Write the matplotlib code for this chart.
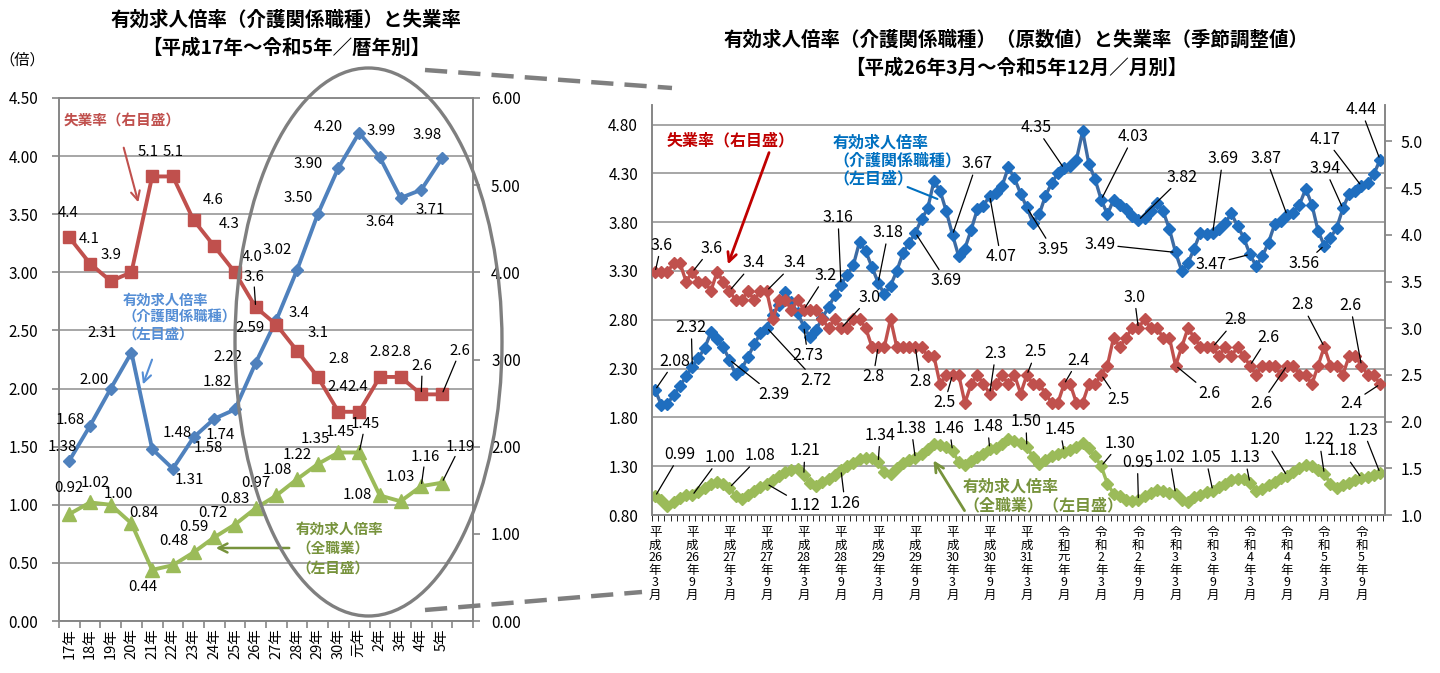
import re
import numpy as np
import matplotlib
matplotlib.use('Agg')
import matplotlib.pyplot as plt
from matplotlib.patches import Ellipse, FancyArrowPatch
from matplotlib.lines import Line2D

plt.rcParams['font.family'] = ['Noto Sans CJK JP', 'DejaVu Sans']

# ---------------- data: left chart (annual, H17 - R5) ----------------
years = ['17年', '18年', '19年', '20年', '21年', '22年', '23年', '24年', '25年', '26年',
         '27年', '28年', '29年', '30年', '元年', '2年', '3年', '4年', '5年']
care_y = [1.38, 1.68, 2.00, 2.31, 1.48, 1.31, 1.58, 1.74, 1.82, 2.22,
          2.59, 3.02, 3.50, 3.90, 4.20, 3.99, 3.64, 3.71, 3.98]
all_y = [0.92, 1.02, 1.00, 0.84, 0.44, 0.48, 0.59, 0.72, 0.83, 0.97,
         1.08, 1.22, 1.35, 1.45, 1.45, 1.08, 1.03, 1.16, 1.19]
unemp_y = [4.4, 4.1, 3.9, 4.0, 5.1, 5.1, 4.6, 4.3, 4.0, 3.6,
           3.4, 3.1, 2.8, 2.4, 2.4, 2.8, 2.8, 2.6, 2.6]

# ---------------- data: right chart (monthly, H26.3 - R5.12) ----------------
care_m = [2.08, 1.93, 1.94, 2.03, 2.12, 2.22, 2.32, 2.41, 2.51, 2.67,
          2.60, 2.52, 2.39, 2.24, 2.30, 2.42, 2.55, 2.66, 2.72, 2.85,
          2.95, 3.08, 2.98, 2.87, 2.73, 2.62, 2.70, 2.82, 2.93, 3.05,
          3.16, 3.26, 3.36, 3.60, 3.50, 3.34, 3.18, 3.06, 3.15, 3.30,
          3.48, 3.59, 3.69, 3.83, 3.94, 4.22, 4.12, 3.91, 3.67, 3.45,
          3.53, 3.72, 3.93, 3.97, 4.07, 4.10, 4.17, 4.36, 4.25, 4.09,
          3.95, 3.79, 3.88, 4.07, 4.20, 4.30, 4.35, 4.38, 4.44, 4.73,
          4.40, 4.24, 4.03, 3.88, 4.03, 3.98, 3.93, 3.86, 3.82, 3.84,
          3.91, 4.00, 3.91, 3.73, 3.49, 3.30, 3.38, 3.53, 3.69, 3.68,
          3.69, 3.73, 3.79, 3.89, 3.76, 3.64, 3.47, 3.35, 3.45, 3.59,
          3.78, 3.81, 3.87, 3.89, 3.98, 4.14, 3.98, 3.71, 3.56, 3.64,
          3.74, 3.94, 4.09, 4.12, 4.17, 4.20, 4.29, 4.44]
all_m = [0.99, 0.95, 0.89, 0.93, 0.97, 1.00, 1.00, 1.04, 1.08, 1.12,
         1.14, 1.12, 1.08, 0.99, 0.96, 1.01, 1.05, 1.09, 1.12, 1.16,
         1.20, 1.24, 1.26, 1.27, 1.21, 1.13, 1.10, 1.14, 1.17, 1.21,
         1.26, 1.30, 1.33, 1.37, 1.38, 1.38, 1.34, 1.24, 1.22, 1.28,
         1.33, 1.36, 1.38, 1.43, 1.48, 1.53, 1.52, 1.50, 1.46, 1.34,
         1.31, 1.35, 1.39, 1.43, 1.48, 1.49, 1.53, 1.58, 1.56, 1.54,
         1.50, 1.39, 1.32, 1.36, 1.40, 1.43, 1.45, 1.47, 1.50, 1.54,
         1.49, 1.40, 1.30, 1.12, 1.02, 0.99, 0.95, 0.94, 0.95, 0.99,
         1.03, 1.06, 1.05, 1.03, 1.02, 0.95, 0.93, 0.98, 1.01, 1.04,
         1.05, 1.09, 1.12, 1.16, 1.17, 1.17, 1.13, 1.05, 1.07, 1.11,
         1.14, 1.18, 1.20, 1.24, 1.28, 1.31, 1.30, 1.26, 1.22, 1.12,
         1.08, 1.11, 1.13, 1.16, 1.18, 1.19, 1.21, 1.23]
unemp_m = [3.6, 3.6, 3.6, 3.7, 3.7, 3.5, 3.6, 3.5, 3.5, 3.4,
           3.6, 3.5, 3.4, 3.3, 3.3, 3.4, 3.3, 3.4, 3.4, 3.1,
           3.3, 3.3, 3.2, 3.3, 3.2, 3.2, 3.2, 3.1, 3.0, 3.1,
           3.0, 3.0, 3.1, 3.1, 3.0, 2.8, 2.8, 2.8, 3.1, 2.8,
           2.8, 2.8, 2.8, 2.8, 2.7, 2.7, 2.4, 2.5, 2.5, 2.5,
           2.2, 2.4, 2.5, 2.4, 2.3, 2.4, 2.5, 2.4, 2.5, 2.3,
           2.5, 2.4, 2.4, 2.3, 2.2, 2.2, 2.4, 2.4, 2.2, 2.2,
           2.4, 2.4, 2.5, 2.6, 2.9, 2.8, 2.9, 3.0, 3.0, 3.1,
           3.0, 3.0, 2.9, 2.9, 2.6, 2.8, 3.0, 2.9, 2.8, 2.8,
           2.8, 2.7, 2.8, 2.7, 2.8, 2.7, 2.6, 2.5, 2.6, 2.6,
           2.6, 2.5, 2.6, 2.6, 2.5, 2.5, 2.4, 2.6, 2.8, 2.6,
           2.6, 2.5, 2.7, 2.7, 2.6, 2.5, 2.5, 2.4]
month_labels = ['平成26年3月', '平成26年9月', '平成27年3月', '平成27年9月', '平成28年3月',
                '平成28年9月', '平成29年3月', '平成29年9月', '平成30年3月', '平成30年9月',
                '平成31年3月', '令和元年9月', '令和2年3月', '令和2年9月', '令和3年3月',
                '令和3年9月', '令和4年3月', '令和4年9月', '令和5年3月', '令和5年9月']

# label positions (offsets in pixels from the point)
care_y_off = [(-7, 14), (-20, 6), (-17, 9), (-29, 20), (25, 16), (16, -11), (15, -11), (6, -16),
              (-18, 27), (-28, 6), (-26, -8), (-20, 20), (-20, 16), (-30, 4), (-31, 6), (1, 26),
              (-20, -24), (9, -20), (-15, 23)]
unemp_y_idx = [0, 1, 2, 4, 5, 6, 7, 8, 9, 10, 11, 12, 13, 14, 15, 16, 17, 18]
unemp_y_off = [(-1, 24), (-1, 25), (0, 26), (-4, 24), (0, 24), (20, 20), (15, 22), (17, 15),
               (-2, 30), (23, 12), (21, 18), (21, 18), (-1, 25), (-1, 25), (0, 25), (0, 25),
               (1, 28), (18, 43)]
all_y_off = [(-1, 26), (5, 19), (8, 11), (12, 10), (-9, -17), (1, 24), (0, 25), (-1, 24), (0, 26),
             (0, 25), (1, 25), (0, 24), (-2, 25), (2, 20), (6, 28), (-23, 0), (0, 24), (4, 29),
             (18, 36)]

lbl_idx = [0, 6, 12, 18, 24, 30, 36, 42, 48, 54, 60, 66, 72, 78, 84, 90, 96, 102, 108, 114, 117]
care_m_idx = lbl_idx[:-2] + [111, 114, 117]
care_m_off = [(20, 29), (-1, 39), (44, -35), (49, -53), (4, -29), (-3, 67), (10, 50), (31, -48),
              (24, 71), (11, -61), (26, -42), (-28, 41), (32, 63), (44, 43), (-76, 8), (10, 74),
              (-39, -10), (-21, 57), (-20, -18), (-18, 40), (-36, 47), (-19, 50)]
unemp_m_off = [(6, 27), (19, 24), (24, 28), (28, 28), (22, 34), (29, 31), (-5, -30), (5, -35),
               (-8, -28), (6, 40), (9, 23), (14, 24), (17, -25), (-4, 31), (34, -28), (23, 27),
               (18, 28), (-26, -38), (-22, 42), (-11, 60), (-29, -19)]
all_m_off = [(25, 42), (28, 38), (31, 32), (38, -22), (1, 24), (4, -33), (2, 27), (-4, 30), (-3, 22),
             (-2, 22), (-1, 25), (-4, 22), (19, 23), (-1, 38), (-6, 36), (-7, 33), (-5, 25),
             (-22, 36), (-5, 34), (-19, 27), (-17, 43)]

W, H = 1440, 673
fig = plt.figure(figsize=(W / 100, H / 100), dpi=100)
GRID = '#A6A6A6'
SPINE = '#868686'


def box(x0, y0, x1, y1):
    return [x0 / W, 1 - y1 / H, (x1 - x0) / W, (y1 - y0) / H]


def put_labels(ax, tr, xs, ys, idx, offs, fmt, size, lead=()):
    for k, (dx, dy) in zip(idx, offs):
        ap = None
        if lead is True or k in lead:
            ap = dict(arrowstyle='-', color='black', lw=0.9, shrinkA=0, shrinkB=2)
        ax.annotate(fmt % ys[k], xy=(xs[k], ys[k]), xycoords=tr, xytext=(dx, dy),
                    textcoords='offset pixels', ha='center', va='center',
                    fontsize=size, arrowprops=ap, annotation_clip=False, zorder=5)


def style_axes(ax, axr):
    for a in (ax, axr):
        for s in a.spines.values():
            s.set_color(SPINE)
            s.set_linewidth(1.2)
        a.tick_params(colors=SPINE, labelcolor='black', width=1.2)
    ax.grid(axis='y', color=GRID, lw=1.4)
    ax.set_axisbelow(True)


# ================= left chart =================
ax1 = fig.add_axes(box(59, 98, 473, 621))
ax1r = ax1.twinx()
x1 = np.arange(len(years))
ax1.plot(x1, care_y, color='#4F81BD', lw=2.8, marker='D', ms=6.2, zorder=3)
ax1.plot(x1, all_y, color='#9BBB59', lw=2.8, marker='^', ms=9.5, zorder=3)
ax1r.plot(x1, unemp_y, color='#C0504D', lw=2.8, marker='s', ms=9, zorder=3)
ax1.set_xlim(-0.5, 19.5)
ax1.set_ylim(0, 4.5)
ax1r.set_ylim(0, 6)
ax1.set_yticks(np.arange(0, 4.51, 0.5))
ax1.set_yticklabels(['%.2f' % v for v in np.arange(0, 4.51, 0.5)], fontsize=11)
ax1r.set_yticks(np.arange(0, 6.01, 1))
ax1r.set_yticklabels(['%.2f' % v for v in np.arange(0, 6.01, 1)], fontsize=11)
ax1.set_xticks(np.arange(21) - 0.5)
ax1.set_xticklabels([])
ax1.set_xticks(x1, minor=True)
ax1.set_xticklabels(years, minor=True, rotation=90, fontsize=10.5)
ax1.tick_params(axis='x', which='minor', length=0, pad=5)
ax1.tick_params(axis='x', which='major', length=5)
ax1.tick_params(axis='y', length=5, pad=10)
ax1r.tick_params(axis='y', length=5, pad=8)
style_axes(ax1, ax1r)
ax1.spines['top'].set_color(GRID)

put_labels(ax1r, ax1.transData, x1, care_y, range(19), care_y_off, '%.2f', 10.8)
put_labels(ax1r, ax1.transData, x1, all_y, range(19), all_y_off, '%.2f', 10.8, lead=(14, 17, 18))
put_labels(ax1r, ax1r.transData, x1, unemp_y, unemp_y_idx, unemp_y_off, '%.1f', 10.8,
           lead=(9, 17, 18))

# ================= right chart =================
ax2 = fig.add_axes(box(652, 105, 1385, 515))
ax2r = ax2.twinx()
x2 = np.arange(len(care_m))
ax2.plot(x2, care_m, color='#3D6BA3', lw=2.4, marker='D', ms=6.2, mfc='#1F6EBF', mec='#1F6EBF',
         zorder=3)
ax2.plot(x2, all_m, color='#9BBB59', lw=2.4, marker='D', ms=6.2, zorder=3)
ax2r.plot(x2, unemp_m, color='#C0504D', lw=2.4, marker='D', ms=6.2, zorder=3)
ax2.set_xlim(-0.5, 117.8)
ax2.set_ylim(0.8, 5.0)
ax2r.set_ylim(1.0, 5.39)
lt = np.arange(0.8, 4.81, 0.5)
ax2.set_yticks(lt)
ax2.set_yticklabels(['%.2f' % v for v in lt], fontsize=11)
rt = np.arange(1.0, 5.01, 0.5)
ax2r.set_yticks(rt)
ax2r.set_yticklabels(['%.1f' % v for v in rt], fontsize=11.5)


def stack(s):
    return '\n'.join(re.findall(r'\d+|.', s))


ax2.set_xticks(np.arange(0, 118, 6))
ax2.set_xticklabels([stack(s) for s in month_labels], fontsize=9, linespacing=0.95, va='top')
ax2.set_xticks(np.arange(119) - 0.5, minor=True)
ax2.tick_params(axis='x', which='major', length=0, pad=8)
ax2.tick_params(axis='x', which='minor', length=4)
ax2.tick_params(axis='y', length=0, pad=10)
ax2r.tick_params(axis='y', length=5, pad=6)
style_axes(ax2, ax2r)
for a in (ax2, ax2r):
    a.spines['top'].set_visible(False)

put_labels(ax2r, ax2.transData, x2, care_m, care_m_idx, care_m_off, '%.2f', 11.5, lead=True)
put_labels(ax2r, ax2.transData, x2, all_m, lbl_idx, all_m_off, '%.2f', 11.5, lead=True)
put_labels(ax2r, ax2r.transData, x2, unemp_m, lbl_idx, unemp_m_off, '%.1f', 11.5, lead=True)

# ================= titles, notes, callouts =================
def ftext(x, y, s, **kw):
    fig.text(x / W, 1 - y / H, s, **kw)


ftext(286, 20, '有効求人倍率（介護関係職種）と失業率', ha='center', va='center', fontsize=14,
      weight='bold')
ftext(286, 48, '【平成17年～令和5年／暦年別】', ha='center', va='center', fontsize=14, weight='bold')
ftext(1016, 40, '有効求人倍率（介護関係職種）（原数値）と失業率（季節調整値）', ha='center',
      va='center', fontsize=14, weight='bold')
ftext(1016, 68, '【平成26年3月～令和5年12月／月別】', ha='center', va='center', fontsize=14,
      weight='bold')
ftext(22, 60, '（倍）', ha='center', va='center', fontsize=11)

ftext(122, 120, '失業率（右目盛）', ha='center', va='center', fontsize=10.5, weight='bold',
      color='#C0504D')
ftext(123, 318, '有効求人倍率\n（介護関係職種）\n（左目盛）', ha='left', va='center', fontsize=10.3,
      weight='bold', color='#558ED5', linespacing=1.25)
ftext(296, 548, '有効求人倍率\n（全職業）\n（左目盛）', ha='left', va='center', fontsize=10.5,
      weight='bold', color='#77933C', linespacing=1.25)
ftext(731, 140, '失業率（右目盛）', ha='center', va='center', fontsize=11.5, weight='bold',
      color='#C00000')
ftext(833, 160, '有効求人倍率\n（介護関係職種）\n（左目盛）', ha='left', va='center', fontsize=11.5,
      weight='bold', color='#0070C0', linespacing=1.15)
ftext(963, 496, '有効求人倍率\n（全職業）（左目盛）', ha='left', va='center', fontsize=11.5,
      weight='bold', color='#77933C', linespacing=1.2)


def farrow(p0, p1, color, lw, style='->'):
    fig.add_artist(FancyArrowPatch((p0[0] / W, 1 - p0[1] / H), (p1[0] / W, 1 - p1[1] / H),
                                   transform=fig.transFigure, arrowstyle=style,
                                   mutation_scale=16, color=color, lw=lw))


farrow((123, 145), (139, 205), '#C0504D', 1.5)
farrow((153, 357), (142, 387), '#558ED5', 1.5)
farrow((292, 548), (213, 548), '#77933C', 1.8)
farrow((770, 150), (727, 267), '#C00000', 2.0)
farrow((905, 186), (940, 200), '#0070C0', 1.5, style='-')
farrow((966, 513), (932, 458), '#77933C', 2.0)

# ellipse and zoom lines
fig.add_artist(Ellipse((368.5 / W, 1 - 342 / H), 267 / W, 548 / H, transform=fig.transFigure,
                       fill=False, ec='#7F7F7F', lw=2.4, zorder=10))
for (a, b) in [((425, 70), (672, 88)), ((425, 610), (642, 592))]:
    fig.add_artist(Line2D([a[0] / W, b[0] / W], [1 - a[1] / H, 1 - b[1] / H],
                          transform=fig.transFigure, color='#7F7F7F', lw=3.2,
                          dashes=(5, 2.5)))

fig.savefig('out.png', dpi=100)
